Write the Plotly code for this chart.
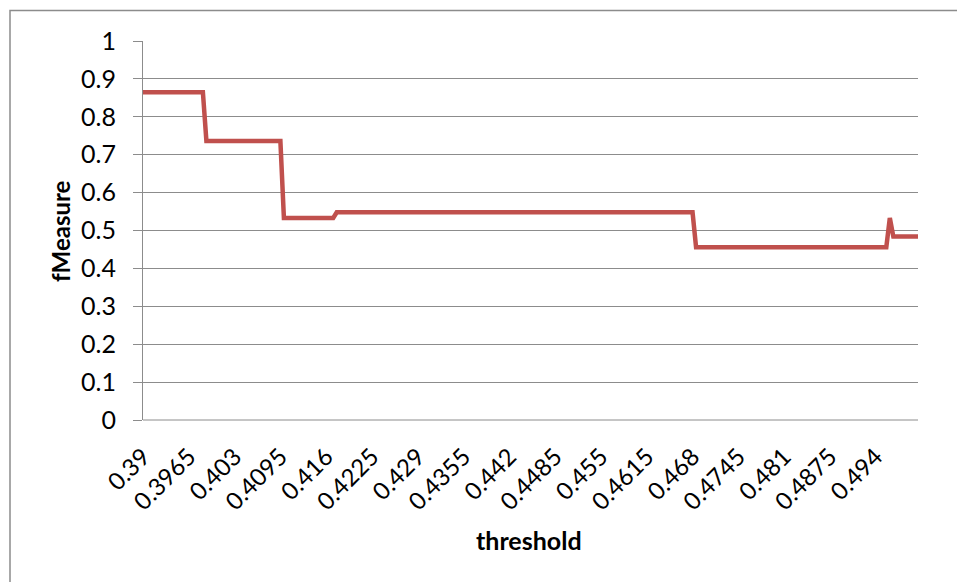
import numpy as np
import plotly.graph_objects as go

# fMeasure as a function of the decision threshold (0.39 .. 0.50, step 0.0005)
threshold_start = 0.39
threshold_step = 0.0005
# constant runs of fMeasure along the threshold sweep
run_levels = [0.865, 0.736, 0.533, 0.548, 0.456, 0.533, 0.484]
run_lengths = [18, 22, 15, 102, 55, 1, 8]

tick_labels = ["0.39", "0.3965", "0.403", "0.4095", "0.416", "0.4225", "0.429",
               "0.4355", "0.442", "0.4485", "0.455", "0.4615", "0.468", "0.4745",
               "0.481", "0.4875", "0.494"]

fmeasure = np.repeat(run_levels, run_lengths)
thresholds = threshold_start + threshold_step * np.arange(len(fmeasure))

W, H = 957, 582
L, R, T, B = 143, 918, 41, 420
pw, ph = R - L, B - T

font_family = "Lato, 'Open Sans', sans-serif"
grid_col = "#8c8c8c"

fig = go.Figure()
fig.add_trace(go.Scatter(
    x=thresholds, y=fmeasure, mode="lines",
    line=dict(color="#C0504D", width=4.5),
    hoverinfo="x+y", showlegend=False,
))

def px_x(p):
    return (p - L) / pw

def px_y(p):
    return (B - p) / ph

fig.update_layout(
    width=W, height=H,
    margin=dict(l=L, r=W - R, t=T, b=H - B, pad=0),
    paper_bgcolor="white", plot_bgcolor="white",
    font=dict(family=font_family, size=22, color="#000000"),
    xaxis=dict(
        range=[thresholds[0], thresholds[-1]],
        tickmode="array",
        tickvals=[float(v) for v in tick_labels],
        ticktext=tick_labels,
        tickangle=-45,
        showgrid=False, zeroline=False,
        showline=False, ticks="",
        ticklabelstandoff=17,
        tickfont=dict(size=24),
    ),
    yaxis=dict(
        range=[0, 1], dtick=0.1, tickformat="~g",
        showgrid=True, gridcolor=grid_col, gridwidth=1,
        zeroline=False,
        showline=True, linecolor=grid_col, linewidth=1,
        ticks="outside", ticklen=9, tickcolor=grid_col, tickwidth=1,
        ticklabelstandoff=12,
        tickfont=dict(size=25),
    ),
    shapes=[
        # outer chart border
        dict(type="rect", xref="paper", yref="paper",
             x0=px_x(10), y0=px_y(600), x1=px_x(1000), y1=px_y(10.5),
             line=dict(color="#8c8c8c", width=1.5), fillcolor="rgba(0,0,0,0)",
             layer="below"),
        # bottom axis line
        dict(type="line", xref="paper", yref="paper",
             x0=0, x1=1, y0=0, y1=0,
             line=dict(color=grid_col, width=1)),
    ],
    annotations=[
        dict(text="<b>fMeasure</b>", xref="paper", yref="paper",
             x=px_x(60), y=px_y(231), textangle=-90, showarrow=False,
             xanchor="center", yanchor="middle", font=dict(size=24)),
        dict(text="<b>threshold</b>", xref="paper", yref="paper",
             x=px_x(529), y=px_y(540), showarrow=False,
             xanchor="center", yanchor="middle", font=dict(size=25)),
    ],
)

fig.write_html("out.html")
